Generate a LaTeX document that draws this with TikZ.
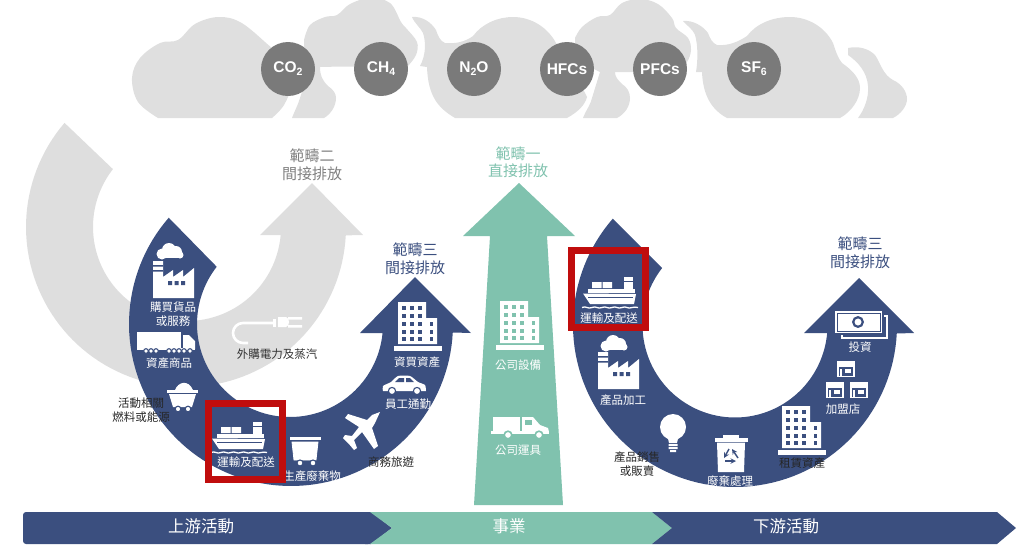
\documentclass[tikz,border=0pt]{standalone}
\usepackage{fontspec}
\setmainfont{Noto Sans CJK TC}
\newfontfamily\latinbold{Liberation Sans}[BoldFont={Liberation Sans Bold}]
\definecolor{navy}{HTML}{3B4F7F}
\definecolor{tealb}{HTML}{80C2AE}
\definecolor{cloudg}{HTML}{DFDFDF}
\definecolor{arcg}{HTML}{DEDEDE}
\definecolor{gasg}{HTML}{7A7A7A}
\definecolor{scopeg}{HTML}{808080}
\definecolor{redbox}{HTML}{C00D0D}
\tikzset{
  cloudpart/.style={fill=cloudg},
  lblbase/.style={inner sep=0pt,align=center,font=\fontsize{11.5}{14}\selectfont},
  wlbl/.style={lblbase,text=white},
  klbl/.style={lblbase,text=black!85},
  headlbl/.style={inner sep=0pt,align=center,font=\fontsize{15}{17.5}\selectfont},
  barlbl/.style={inner sep=0pt,text=white,font=\fontsize{16.5}{18}\selectfont},
  gas/.style={circle,fill=gasg,minimum size=54pt,inner sep=0pt,text=white,font=\latinbold\bfseries\fontsize{15.5}{16}\selectfont},
  redframe/.style={draw=redbox,line width=7pt},
  pics/smoke/.style={code={
    \fill[white] (6,11) circle (5.5) (13,7) circle (7) (20,9) circle (6) (24,12) circle (3.5);
    \fill[white] (4,12) rectangle (26,15);
  }},
  pics/factory/.style={code={
    \fill[white] (0,0) -- (0,-37) -- (10,-37) -- (10,-21) -- (20,-28) -- (20,-21) -- (30,-28) -- (30,-21) -- (41,-30) -- (41,0) -- cycle;
    \fill[#1] (0,-33) rectangle (10,-31.5) (0,-28) rectangle (10,-26.5);
    \fill[#1] (15,-17) rectangle (19,-13) (21.5,-17) rectangle (25.5,-13) (28,-17) rectangle (32,-13);
  }},
  pics/building/.style={code={
    \fill[white] (2,0) -- (2,-42) -- (30,-42) -- (30,-26) -- (41,-26) -- (41,0) -- cycle;
    \foreach \yy in {-36,-28,-20,-12,-5}{
      \foreach \xx in {8,16,24}{ \fill[#1] (\xx-1.8,\yy-1.8) rectangle (\xx+1.8,\yy+1.8); }
    }
    \foreach \yy in {-20,-12,-5}{ \fill[#1] (33.5,\yy-1.8) rectangle (37,\yy+1.8); }
    \fill[white] (-2,2) rectangle (46,6.5);
  }},
  pics/ship/.style={code={
    \fill[white] (9,5) rectangle (18.5,11) (19.5,5) rectangle (29,11);
    \fill[white] (5,11.5) rectangle (52,16);
    \fill[white] (41,0) rectangle (50,16);
    \fill[navy] (41,4) rectangle (50,5);
    \fill[white] (0,16.5) -- (53,17) -- (51,27) -- (7,27) -- cycle;
    \draw[navy,line width=.6pt] (5,20) -- (50,20);
    \draw[white,line width=1.3pt] (-1,30.5) .. controls (3,28.5) and (5,32.5) .. (9,30.5) .. controls (13,28.5) and (15,32.5) .. (19,30.5) .. controls (23,28.5) and (25,32.5) .. (29,30.5) .. controls (33,28.5) and (35,32.5) .. (39,30.5) .. controls (43,28.5) and (45,32.5) .. (49,30.5) .. controls (51,29.5) and (53,30.5) .. (55,30.5);
  }},
  pics/shop/.style={code={
    \fill[white] (0,0) rectangle (18,5.5);
    \draw[white,line width=1.2pt] (1,5.5) -- (1,15.5) -- (17,15.5) -- (17,5.5);
    \fill[white] (8,8) rectangle (14,12);
    \draw[white,line width=1.1pt] (4,8) -- (4,15);
  }},
  wheel/.style={draw=#1,fill=white,line width=1.1pt}
}
\begin{document}
\begin{tikzpicture}[x=1pt,y=-1pt]
\useasboundingbox (0,0) rectangle (1020,547);
\begin{scope}
\clip (0,0) rectangle (1020,118);
% --- clouds ---
\fill[cloudpart] plot[smooth,tension=.6] coordinates {(272,118) (284,105) (291,85) (285,62) (265,42) (240,22) (218,17) (195,24) (178,40) (160,43) (140,58) (132,78) (138,102) (158,118)} -- cycle;
\fill[cloudpart] (292,118) .. controls (295,110) and (298,105) .. (300,98) -- (310,67) -- (320,67) .. controls (320,75) and (322,80) .. (328,86) .. controls (334,90) and (336,94) .. (336,98) .. controls (336,106) and (331,114) .. (324,118) -- cycle;
\fill[cloudpart] plot[smooth,tension=.6] coordinates {(304,40) (310,25) (325,17) (337,15) (350,4) (370,-2) (390,3) (401,22) (406,28) (417,42) (416,55) (408,66)} -- (305,67) -- cycle;
\fill[cloudpart] (412,17) .. controls (422,16) and (431,22) .. (436,30) .. controls (438,36) and (440,41) .. (445,43) .. controls (455,44) and (465,42) .. (473,36) .. controls (482,24) and (497,17) .. (513,17) .. controls (532,17) and (548,28) .. (556,43) .. controls (565,60) and (578,78) .. (587,97) .. controls (585,105) and (578,112) .. (567,118) -- (455,118) .. controls (438,108) and (428,96) .. (427,67) -- (420,66) .. controls (426,55) and (426,42) .. (423,33) .. controls (420,27) and (415,24) .. (412,17) -- cycle;
\fill[cloudpart] (583,118) .. controls (586,110) and (591,104) .. (592,98) -- (600,72) -- (615,72) .. controls (615,77) and (618,80) .. (622,84) .. controls (627,87) and (630,92) .. (630,98) .. controls (630,106) and (625,114) .. (617,118) -- cycle;
\fill[cloudpart] plot[smooth,tension=.6] coordinates {(575,38) (582,27) (597,17) (610,15) (622,3) (640,-1) (658,4) (672,18) (676,28) (688,38) (691,50) (687,62) (677,72)} -- (600,72) -- (576,60) -- cycle;
\fill[cloudpart] (683,21) .. controls (693,20) and (703,26) .. (708,33) .. controls (710,38) and (712,43) .. (717,45) .. controls (728,46) and (738,42) .. (747,36) .. controls (756,24) and (772,17) .. (790,17) .. controls (808,17) and (825,27) .. (833,43) .. controls (836,52) and (838,58) .. (842,63) .. controls (852,70) and (860,78) .. (860,88) .. controls (860,100) and (851,112) .. (840,118) -- (727,118) .. controls (712,110) and (703,96) .. (702,72) -- (696,72) .. controls (698,60) and (698,45) .. (695,35) .. controls (692,28) and (687,26) .. (683,21) -- cycle;
\fill[cloudpart] (848,48) .. controls (858,46) and (868,48) .. (875,55) .. controls (880,62) and (883,75) .. (893,80) .. controls (902,84) and (907,92) .. (907,99) .. controls (907,106) and (901,114) .. (893,118) -- (858,118) .. controls (864,110) and (869,98) .. (868,86) .. controls (867,72) and (858,62) .. (848,55) -- cycle;
\end{scope}
% --- gases ---
\node[gas] (co2) at (288,69) {CO\raisebox{-3pt}{\fontsize{10.5}{12}\selectfont 2}};
\node[gas] (ch4) at (381,69) {CH\raisebox{-3pt}{\fontsize{10.5}{12}\selectfont 4}};
\node[gas] (n2o) at (474,69) {N\raisebox{-3pt}{\fontsize{10.5}{12}\selectfont 2}O};
\node[gas] (hfc) at (567,69) {HFCs};
\node[gas] (pfc) at (660,69) {PFCs};
\node[gas] (sf6) at (754,69) {SF\raisebox{-3pt}{\fontsize{10.5}{12}\selectfont 6}};
% --- grey scope 2 arrow ---
\fill[arcg] plot[domain=220.6:3,samples=90] ({186+160*cos(\x)},{227+160*sin(\x)}) -- (363,235) -- (312,183) -- (260,235) -- (281,235) -- plot[domain=5:218,samples=90] ({187+94*cos(\x)},{227+94*sin(\x)}) -- cycle;
% --- blue scope 3 arrows ---
\fill[navy] plot[domain=221:3,samples=90] ({291+162*cos(\x)},{324+162*sin(\x)}) -- (471,333) -- (415,277) -- (360,333) -- (383,333) -- plot[domain=5.5:218,samples=90] ({290+93*cos(\x)},{324+93*sin(\x)}) -- cycle;
\fill[navy] plot[domain=221:3,samples=90] ({735+162*cos(\x)},{325+162*sin(\x)}) -- (914,333) -- (859,278) -- (804,333) -- (827,333) -- plot[domain=5:218,samples=90] ({735+92.5*cos(\x)},{325+92.5*sin(\x)}) -- cycle;
% --- teal scope 1 arrow ---
\fill[tealb] (519,183) -- (575,236) -- (547,236) -- (563,505) -- (474,505) -- (490,236) -- (463,236) -- cycle;
% --- bottom bar ---
\fill[navy,rounded corners=3pt] (23,512) -- (371,512) -- (371,544) -- (23,544) -- cycle;
\fill[navy] (365,512) -- (371,512) -- (392,528) -- (371,544) -- (365,544) -- cycle;
\fill[tealb] (370,512) -- (652,512) -- (672,528) -- (652,544) -- (370,544) -- (392,528) -- cycle;
\fill[navy] (652,512) -- (997,512) -- (1016,528) -- (997,544) -- (652,544) -- (672,528) -- cycle;
\node[barlbl] (up) at (201,526) {上游活動};
\node[barlbl] (biz) at (509,526) {事業};
\node[barlbl] (down) at (786,526) {下游活動};
% --- headings ---
\node[headlbl,text=scopeg] (s2) at (312,164.5) {範疇二\\間接排放};
\node[headlbl,text=tealb] (s1) at (518,162) {範疇一\\直接排放};
\node[headlbl,text=navy] (s3a) at (415,258.5) {範疇三\\間接排放};
\node[headlbl,text=navy] (s3b) at (860,252.5) {範疇三\\間接排放};
% --- left icons ---
\pic at (156,243) {smoke};
\pic at (153,298) {factory=navy};
\node[wlbl] (l1) at (173,314.5) {購買貨品\\或服務};
\fill[white] (137,332) rectangle (181,348);
\fill[white] (183,335) -- (189,335) -- (195,341) -- (195,349) -- (183,349) -- cycle;
\fill[white] (137,348) rectangle (195,350);
\foreach \wx in {146,151,156,169,174,179,184,190}{\draw[wheel=navy] (\wx,351) circle (2.3);}
\node[wlbl] (l2) at (169,363) {資產商品};
\fill[white] (175,390) .. controls (178,382) and (188,379) .. (193,390) -- cycle;
\fill[white] (167,390) rectangle (198,393);
\fill[white] (169,394) -- (196,394) -- (192,407) -- (173,407) -- cycle;
\draw[wheel=navy] (178,409) circle (2.8);
\draw[wheel=navy] (188,409) circle (2.8);
\node[klbl] (l3) at (141,410) {活動相關\\燃料或能源};
\pic at (212,422) {ship};
\node[wlbl] (l4) at (246,462) {運輸及配送};
\fill[white] (290,437) rectangle (321,440);
\draw[white,fill=white,line width=.8pt] (292,442) -- (318,442) -- (316,460) -- (294,460) -- cycle;
\draw[wheel=navy] (300,463) circle (3);
\draw[wheel=navy] (313,463) circle (3);
\node[wlbl] (l5) at (312,476) {生產廢棄物};
\fill[white] (380,412) -- (375,423) -- (372,428) -- (378,446) -- (374,449) -- (362,432) -- (354,440) -- (357,448) -- (354,450) -- (349,444) -- (343,438) -- (345,435) -- (352,436) -- (359,427) -- (345,418) -- (348,414) -- (367,420) -- (372,415) -- cycle;
\node[klbl] (l6) at (391,462) {商務旅遊};
\begin{scope}[shift={(383,375)}]
  \fill[white] plot[smooth,tension=.4] coordinates {(0,16) (0,11) (8,7) (15,1) (27,1) (35,7) (42,10) (43,16)} -- cycle;
  \fill[navy] (12,7) -- (16,3.2) -- (21,3.2) -- (21,7) -- cycle (23,3.2) -- (27,3.2) -- (31,7) -- (23,7) -- cycle;
  \draw[wheel=navy] (9,16) circle (3.6);
  \draw[wheel=navy] (34,16) circle (3.6);
\end{scope}
\node[wlbl] (l7) at (408,404) {員工通勤};
\pic at (396,344) {building=navy};
\node[wlbl] (l8) at (417,362) {資買資產};
% plug
\draw[white,line width=2.6pt] (274,323) -- (243,323) arc[start angle=90,end angle=270,radius=10pt] -- (248,343);
\fill[white] (273,319) rectangle (276,327);
\fill[white] (278,317) -- (286,317) .. controls (290,318) and (290,326) .. (286,327) -- (278,327) -- cycle;
\fill[white] (288,317) rectangle (302,319.5) (288,325) rectangle (302,327.5);
\node[lblbase,text=black!80] (plug) at (277,354) {外購電力及蒸汽};
% --- teal icons ---
\pic at (498,343) {building=tealb};
\node[wlbl] (t1) at (518,365) {公司設備};
\fill[white] (493,417) rectangle (520,433);
\fill[white] (522,417) -- (533,417) -- (540,425) -- (548,428) -- (549,432) -- (522,433) -- cycle;
\fill[tealb] (525,420) rectangle (532,425);
\fill[white] (491,431) rectangle (549,434);
\draw[wheel=tealb,line width=1.6pt] (508,435) circle (3.8);
\draw[wheel=tealb,line width=1.6pt] (539,435) circle (3.8);
\node[wlbl] (t2) at (518,450) {公司運具};
% --- right icons ---
\pic at (583,277) {ship};
\node[wlbl] (r1) at (609,318) {運輸及配送};
\pic at (600,335) {smoke};
\pic at (598,389) {factory=navy};
\node[wlbl] (r2) at (623,400) {產品加工};
\fill[white] (673,427) circle (13);
\fill[white] (667,434) -- (679,434) -- (677,443) -- (669,443) -- cycle;
\fill[white] (668.5,444) rectangle (677.5,446) (668.5,447) rectangle (677.5,449) (670,450) rectangle (676,452);
\node[klbl] (r3) at (637,464) {產品銷售\\或販賣};
\fill[white] (723,435) rectangle (739,438);
\fill[white] (715,438) rectangle (748,441.5);
\fill[white] (717,442.5) -- (745,442.5) -- (744,472) -- (718,472) -- cycle;
\draw[navy,line width=1.4pt,-stealth] (729,449) -- (724,458);
\draw[navy,line width=1.4pt,-stealth] (725,461) -- (736,461);
\draw[navy,line width=1.4pt,-stealth] (738,458) -- (732,449);
\node[wlbl] (r4) at (730,481) {廢棄處理};
\pic at (780,448) {building=navy};
\node[klbl] (r5) at (802,463) {租賃資產};
\pic at (837,361) {shop};
\pic at (826,382) {shop};
\pic at (850,382) {shop};
\node[wlbl] (r6) at (843,409) {加盟店};
\draw[white,line width=1.3pt] (884,316) -- (887,316) -- (887,338) -- (842,338) -- (842,335);
\fill[white] (835,311) rectangle (882,333);
\draw[navy,line width=.8pt] (837,313) rectangle (880,331);
\draw[navy,line width=2.2pt] (858,322) circle (4.8);
\node[wlbl] (r7) at (860,347) {投資};
% --- red frames ---
\draw[redframe] (208.5,403.5) rectangle (282.5,479.5);
\draw[redframe] (571.5,250.5) rectangle (645.5,327.5);
\end{tikzpicture}
\end{document}
